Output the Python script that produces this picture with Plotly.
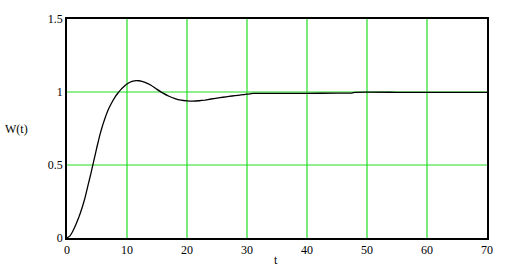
import plotly.graph_objects as go

t_vals = [0, 0.5, 1, 1.5, 2, 2.5, 3, 3.5, 4, 4.5, 5, 5.5, 6, 6.5, 7, 7.5, 8, 8.5, 9, 9.5,
          10, 10.5, 11, 11.5, 12, 13, 14, 15, 16, 17, 18, 19, 20, 21, 22, 23, 24, 25,
          26, 27, 28, 29, 30, 31, 35, 40, 45, 47.5, 48, 55, 60, 70]
w_vals = [0, 0.015, 0.05, 0.095, 0.145, 0.205, 0.275, 0.36, 0.445, 0.535, 0.625, 0.71, 0.78, 0.84,
          0.89, 0.93, 0.965, 0.993, 1.018, 1.038, 1.055, 1.067, 1.074, 1.078, 1.077, 1.066,
          1.046, 1.018, 0.992, 0.971, 0.955, 0.944, 0.939, 0.937, 0.94, 0.945, 0.952, 0.958,
          0.964, 0.97, 0.975, 0.98, 0.985, 0.99, 0.991, 0.991, 0.992, 0.993, 0.998, 0.998,
          0.998, 0.998]

x_ticks = [0, 10, 20, 30, 40, 50, 60, 70]
y_ticks = [0, 0.5, 1, 1.5]
y_tick_text = ["0", "0.5", "1", "1.5"]
x_grid = [10, 20, 30, 40, 50, 60]
y_grid = [0.5, 1]

font = dict(family="Liberation Serif", size=12, color="black")
grid_color = "#22dd22"

fig = go.Figure()
fig.add_trace(go.Scatter(x=t_vals, y=w_vals, mode="lines",
                         line=dict(color="black", width=1.3, shape="spline", smoothing=0.3),
                         showlegend=False, hoverinfo="skip"))

shapes = []
for gx in x_grid:
    shapes.append(dict(type="line", xref="x", yref="paper", x0=gx, x1=gx, y0=0, y1=1,
                       line=dict(color=grid_color, width=1.2), layer="below"))
for gy in y_grid:
    shapes.append(dict(type="line", xref="paper", yref="y", x0=0, x1=1, y0=gy, y1=gy,
                       line=dict(color=grid_color, width=1.2), layer="below"))

fig.update_layout(
    width=510, height=269,
    margin=dict(l=67, r=23, t=15, b=29),
    paper_bgcolor="white", plot_bgcolor="white",
    font=font,
    shapes=shapes,
    xaxis=dict(range=[0, 70], tickvals=x_ticks, ticktext=[str(v) for v in x_ticks],
               showgrid=False,
               showline=True, linecolor="black", linewidth=1.5, mirror=True,
               zeroline=False, ticks="", ticklen=0, tickfont=font),
    yaxis=dict(range=[0, 1.5], tickvals=y_ticks, ticktext=y_tick_text,
               showgrid=False,
               showline=True, linecolor="black", linewidth=1.5, mirror=True,
               zeroline=False, ticks="", ticklen=0, tickfont=font),
    annotations=[
        dict(text="W(t)", xref="paper", yref="paper", x=-0.12, y=0.5,
             xanchor="center", yanchor="middle", showarrow=False, font=font),
        dict(text="t", xref="paper", yref="paper", x=0.497, y=-0.1,
             xanchor="center", yanchor="middle", showarrow=False, font=font),
    ],
)

fig.write_html("out.html")
